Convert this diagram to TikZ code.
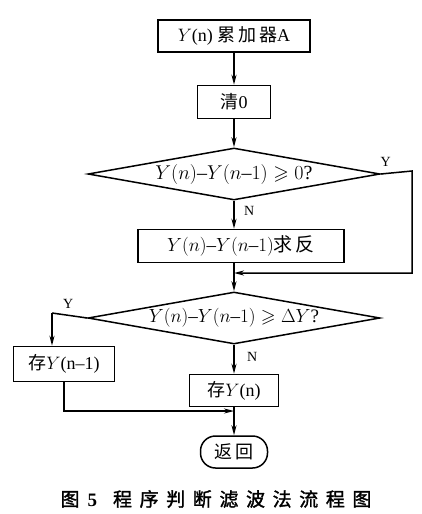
\RequirePackage{fix-cm}
\documentclass[tikz,border=0pt]{standalone}
\usepackage{amssymb}
\usepackage{fontspec}
\setmainfont{Liberation Serif}
\newfontfamily\cjk[LetterSpace=16]{Noto Sans CJK SC}
\newfontfamily\capfont[LetterSpace=40,FakeBold=1.5]{Noto Sans CJK SC}
\usetikzlibrary{shapes,arrows,arrows.meta}
\usetikzlibrary{positioning}
\usetikzlibrary{shapes.geometric}
\tikzstyle{box}=[draw, line width=1.5pt, minimum height=33pt, inner sep=2pt,
anchor=center, text centered, font=\fontsize{18}{21}\selectfont]
\tikzstyle{decision}=[diamond, draw, aspect=5.6, inner sep=0pt, line width=1.5pt,
minimum width=292pt, minimum height=52pt, font=\fontsize{20}{23}\selectfont]
\tikzstyle{terminal}=[box, rounded corners=15pt]
\tikzstyle{myarrow}=[->, >={Stealth[length=10pt,width=5pt]}, line width=1.5pt]
\tikzstyle{myline}=[line width=1.5pt]
\tikzstyle{yn}=[font=\fontsize{14}{16}\selectfont, inner sep=1pt]

\begin{document}
\begin{tikzpicture}[x=1pt, y=1pt]

    \useasboundingbox (0,0) rectangle (422,-514);

    \node[box, minimum width=152pt, minimum height=32pt] (acc) at (234,-36) {$Y$(n) {\cjk 累加器}A};
    \node[box, below=32pt of acc, minimum width=73pt] (clr) {{\cjk 清}0};
    \draw[myarrow] (acc) -- (clr);

    % DECISION 1
    \node[decision, below=28pt of clr] (dec1) {$Y(n)\mbox{--}Y(n\mbox{--}1)\geqslant0$?};
    \draw[myarrow] (clr) -- (dec1);

    \node[box, below=28pt of dec1, xshift=7pt, minimum width=206pt, font=\fontsize{19}{22}\selectfont] (neg) {$Y(n)\mbox{--}Y(n\mbox{--}1)${\cjk 求反}};
    \draw[myarrow] (dec1.south) -- (dec1.south |- neg.north);
    \node[yn, below right=4pt and 9pt of dec1.south] (n1) {N};

    % DECISION 2
    \node[decision, below=28pt of neg.south -| dec1.south, anchor=north, font=\fontsize{19}{22}\selectfont] (dec2) {$Y(n)\mbox{--}Y(n\mbox{--}1)\geqslant\Delta Y$?};
    \draw[myarrow] (dec2.north |- neg.south) -- (dec2.north);

    \coordinate (join1) at (dec2.north |- 0,-273);
    \coordinate (rturn) at (412,-171);
    \draw[myarrow] (dec1.east) -- (rturn) |- (join1);
    \node[yn, above left=3pt and 20pt of rturn] (y1) {Y};

    % STORE
    \node[box, minimum width=101pt, minimum height=35pt] (keepold) at (64,-364) {{\cjk 存}$Y$(n--1)};
    \coordinate (lturn) at (52,-313);
    \draw[myline] (dec2.west) -- (lturn);
    \draw[myarrow] (lturn) -- (lturn |- keepold.north);
    \node[yn, above right=3pt and 10pt of lturn] (y2) {Y};

    \node[box, below=29pt of dec2, minimum width=89pt, minimum height=32pt] (keepnew) {{\cjk 存}$Y$(n)};
    \draw[myarrow] (dec2) -- (keepnew);
    \node[yn, below right=6pt and 12pt of dec2.south] (n2) {N};

    % RETURN
    \node[terminal, below=28pt of keepnew, minimum width=67pt, minimum height=32pt] (ret) {\cjk 返回};
    \draw[myarrow] (keepnew) -- (ret);

    \coordinate (join2) at (ret.north |- 0,-411);
    \draw[myarrow] (keepold.south) |- (join2);

    \node[font=\fontsize{19}{21}\selectfont] (caption) at (216,-499) {{\capfont 图}\hspace{8pt}{\bfseries 5}\hspace{16pt}{\capfont 程序判断滤波法流程图}};

\end{tikzpicture}
\end{document}
